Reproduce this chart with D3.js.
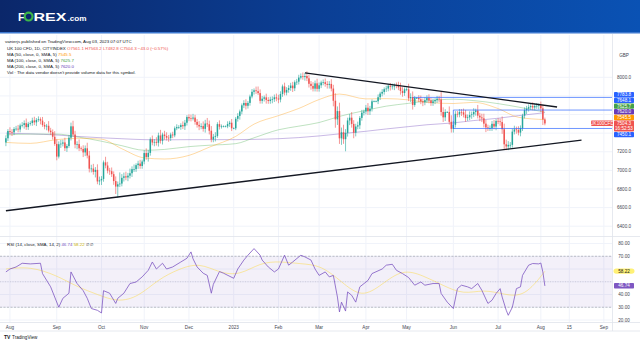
<!DOCTYPE html>
<html><head><meta charset="utf-8">
<script src="https://cdn.jsdelivr.net/npm/d3@7"></script>
<style>html,body{margin:0;padding:0;background:#fff;}svg{display:block;font-family:"Liberation Sans",Arial,sans-serif;}</style>
</head><body><svg id="c" width="640" height="360"></svg>
<script>
// ---------- DATA ----------
const startDate = "2022-07-28", lastBarDate = "2023-08-03", endDate = "2023-09-05";
const firstOpen = 7300;
const closes = [
7345,7423,
7413,7409,7445,7448,7439,7482,7488,7507,7465,7501,7509,7536,7516,7542,7550,7534,7488,7471,7479,7427,7410,7361,7284,
7148,7281,7287,7300,7238,7262,7351,7473,7385,7277,7282,7237,7230,7193,7237,7159,7018,7020,6984,7005,6881,6893,
6908,7086,7052,6997,6991,6959,6885,6826,6850,6858,6920,6936,6924,6943,6969,7013,7013,7056,7073,7047,7095,
7186,7144,7188,7334,7299,7306,7296,7375,7318,7385,7369,7351,7347,7385,7376,7452,7465,7466,7486,7474,7512,7573,
7559,7556,7567,7521,7489,7472,7476,7446,7503,7495,7426,7332,7361,7370,7497,7469,7473,7473,7473,7497,7512,7452,
7452,7554,7585,7633,7699,7724,7694,7725,7794,7844,7860,7851,7830,7747,7770,7784,7757,7745,7761,7765,7785,7772,
7761,7820,7902,7836,7864,7885,7911,7882,7947,7953,7997,8012,8004,8014,7989,7930,7907,7878,7935,7876,
7914,7944,7947,7929,7919,7929,7879,7748,7548,7637,7344,7410,7335,7403,7536,7566,7499,7405,7471,7484,7564,7620,7632,
7673,7635,7663,7742,7742,7742,7786,7825,7843,7872,7879,7909,7898,7902,7914,7912,7892,7853,7831,7871,
7871,7774,7788,7703,7778,7778,7764,7741,7730,7754,7777,7751,7723,7742,7756,7770,7762,7627,7570,7627,7627,7522,7446,
7490,7607,7600,7628,7624,7599,7562,7570,7594,7602,7628,7643,7588,7569,7559,7502,7461,7453,7453,7500,7471,7531,
7527,7519,7442,7280,7257,7274,7274,7416,7440,7434,7406,7453,7588,7646,7663,7679,7691,7676,7692,7694,7699,
7666,7547,7504.3];
// wick lengths above / below the body, in tens of points
const upWick = [
3,2,
4,3,2,3,4,2,3,3,5,2,2,3,4,2,3,2,4,3,2,5,3,3,6,
5,3,4,3,5,2,3,4,6,4,3,5,2,4,3,6,5,4,5,3,6,4,
3,2,6,4,3,4,3,5,3,12,4,4,5,3,5,3,5,2,3,4,2,
3,5,3,2,4,3,5,3,6,2,4,4,3,2,3,2,3,2,2,4,3,2,
3,4,4,3,3,4,3,5,4,6,4,5,3,4,2,4,2,1,1,3,2,4,
1,2,3,2,2,3,4,2,2,3,2,4,5,4,3,2,4,3,3,3,3,4,
4,3,2,4,3,3,3,4,2,3,3,3,4,3,5,4,3,4,3,5,
3,2,3,4,3,3,5,4,8,5,9,5,8,4,3,4,6,4,3,4,2,3,2,
3,5,3,2,1,1,3,2,3,2,3,2,3,3,2,3,4,5,4,2,
2,6,4,6,2,1,3,4,3,3,3,4,3,3,2,3,3,8,5,3,1,6,7,
4,3,3,3,3,4,5,3,4,3,4,2,6,3,4,5,4,3,3,3,4,2,
3,3,6,6,5,4,3,3,4,3,4,3,2,3,3,3,3,4,3,3,2,
4,4,2];
const dnWick = [
4,3,
3,4,3,2,3,3,2,4,3,3,2,3,3,4,2,4,2,3,4,2,3,3,2,
4,2,4,3,3,4,2,3,2,4,5,3,2,5,4,3,4,4,3,6,3,4,
5,3,3,3,4,3,4,8,12,3,3,4,3,4,3,4,3,3,4,3,3,
3,3,5,3,3,4,3,4,3,4,4,3,4,3,3,2,2,2,3,3,4,3,
3,3,2,3,3,4,3,3,4,3,4,3,3,5,2,3,2,1,1,2,3,3,
1,2,3,4,3,3,4,3,3,2,3,3,2,3,3,3,4,3,3,4,3,3,
4,3,3,3,3,3,3,4,3,3,3,2,3,4,3,4,4,3,3,3,
3,3,3,3,4,4,3,6,9,6,6,7,5,13,4,5,4,6,4,3,4,3,3,
3,4,4,3,1,1,3,3,3,3,3,3,4,3,4,3,3,4,4,3,
2,3,4,5,2,1,3,3,4,3,3,3,3,3,3,3,3,4,5,4,1,3,4,
4,3,3,3,4,3,4,3,3,4,3,4,3,4,4,4,5,3,3,3,3,4,
3,4,5,5,4,4,4,3,3,4,3,4,3,3,4,3,3,3,3,3,4,
4,6,2];
const maDates = ["2022-07-28","2022-08-15","2022-09-01","2022-09-15","2022-10-03","2022-10-17","2022-11-01","2022-11-15","2022-12-01","2022-12-15","2023-01-03","2023-01-16","2023-02-01","2023-02-15","2023-03-01","2023-03-15","2023-04-03","2023-04-17","2023-05-02","2023-05-15","2023-06-01","2023-06-15","2023-07-03","2023-07-17","2023-08-03"];
const ma50  = [7300,7290,7330,7345,7335,7232,7134,7122,7161,7249,7365,7497,7588,7665,7761,7820,7768,7771,7757,7731,7718,7731,7664,7570,7545.5];
const ma100 = [7380,7390,7390,7360,7313,7265,7216,7225,7255,7270,7287,7350,7436,7475,7514,7580,7645,7690,7720,7745,7765,7750,7717,7680,7625.7];
const ma200 = [7400,7392,7380,7365,7350,7340,7330,7328,7330,7330,7330,7333,7340,7352,7370,7392,7420,7445,7470,7490,7510,7535,7560,7588,7620.0];
const trendUpper = [["2023-02-20",8047],["2023-08-09",7681]];
const trendLower = [["2022-07-28",6566],["2023-08-21",7326]];
const boxTopLine = {from:"2023-05-04", price:7783.8};
const boxRange = {from:"2023-06-01", top:7648.1, bottom:7450.1};
// RSI points: [bar index, value]
const rsiPoints = [[0,57.7],[2,60],[5,61.6],[8,64.5],[12,64],[17,64.5],[18,56.4],[22,46],[26,30],[28,37],[31,41],[32,57.7],[35,48.6],[38,43],[40,37],[42,29],[45,27.6],[47,25.5],[48,43],[51,41],[54,33],[55,37],[58,41],[61,48.6],[64,49.8],[67,53.8],[70,59],[72,65.5],[74,60],[77,64.5],[79,60],[82,61.6],[86,65.5],[89,68.4],[91,73.4],[92,68],[94,61.6],[97,56.7],[99,55],[101,41],[102,48],[105,58],[107,56.7],[112,52.7],[114,60],[117,67],[119,70.8],[122,76],[125,70.8],[126,67],[129,61.6],[132,57.7],[134,60],[137,70.8],[139,63],[141,65.5],[145,70.8],[147,69.5],[150,67],[152,60],[154,55],[157,57.7],[159,53.8],[161,55],[163,38],[164,26.3],[165,34],[167,27],[168,42],[170,39.4],[172,34],[174,46],[178,51],[180,56.4],[185,60],[187,63],[190,63.7],[192,59],[195,56.4],[198,53.3],[201,47.3],[204,49.8],[206,47.3],[210,48.6],[213,48.6],[214,40.8],[217,34],[220,29],[222,44.6],[224,47.3],[227,46],[229,44.6],[232,48.6],[234,43.3],[237,33],[239,35.5],[241,40.8],[243,44.6],[244,38],[246,27.6],[247,23.7],[249,30],[251,44.6],[253,46],[254,55],[257,63],[259,64.3],[262,64],[263,64.7],[264,57.7],[265,46.74]];
const rsiMaPoints = [[0,60],[12,62],[25,55],[35,46],[45,40],[55,34],[65,38],[75,52],[85,60],[95,65],[105,57],[115,55],[125,65],[135,66],[145,64],[155,63],[165,50],[175,37],[185,48],[195,60],[205,55],[215,47],[225,40],[235,44],[245,40],[255,38],[265,58.22]];
const timeTicks = [["2022-08-01","Aug"],["2022-09-01","Sep"],["2022-10-03","Oct"],["2022-11-01","Nov"],["2022-12-01","Dec"],["2023-01-02","2023"],["2023-02-01","Feb"],["2023-03-01","Mar"],["2023-04-03","Apr"],["2023-05-01","May"],["2023-06-01","Jun"],["2023-07-03","Jul"],["2023-08-01","Aug"],["2023-08-15","15"],["2023-09-01","Sep"]];
const priceTicks = [8000,7800,7600,7400,7200,7000,6800,6600,6400];
const rsiTicks = [80,70,60,50,40,30,20];
const priceLabels = [
 {v:7783.8,t:"7783.8",c:"#2962ff"},{v:7648.1,t:"7648.1",c:"#2962ff"},{v:7625.7,t:"7625.7",c:"#43a047"},
 {v:7620.0,t:"7620.0",c:"#673ab7"},{v:7545.5,t:"7545.5",c:"#ff9800"},{v:7504.3,t:"7504.3",t2:"16:52:53",c:"#ef5350"},
 {v:7450.1,t:"7450.1",c:"#2962ff"}];
const rsiLabels = [{v:58.22,t:"58.22",c:"#fff176",tc:"#131722",pill:true},{v:46.74,t:"46.74",c:"#7e57c2",tc:"#fff"}];

// ---------- LAYOUT ----------
const svg = d3.select("#c");
const W=640, plotR=612;
const parse = d3.utcParse("%Y-%m-%d"), fmt = d3.utcFormat("%Y-%m-%d");
// trading days (weekdays) up to the last bar, then calendar days in the empty future area
const pastDates = d3.utcDays(parse(startDate), d3.utcDay.offset(parse(lastBarDate),1)).filter(d=>d.getUTCDay()%6!==0).map(fmt);
const futureDates = d3.utcDays(d3.utcDay.offset(parse(lastBarDate),1), d3.utcDay.offset(parse(endDate),1)).map(fmt);
const allDates = pastDates.concat(futureDates);
const x = d3.scalePoint().domain(allDates).range([5.9, plotR]);
const y = d3.scaleLinear().domain([6400,8000]).range([226.2,77.3]);
const yr = d3.scaleLinear().domain([20,80]).range([320,243.5]);
const barDates = allDates.slice(0, closes.length);

const defs = svg.append("defs");
const grad = defs.append("linearGradient").attr("id","hg").attr("x1","0").attr("x2","1");
grad.append("stop").attr("offset","0").attr("stop-color","#0b276a");
grad.append("stop").attr("offset","0.5").attr("stop-color","#0b3f95");
grad.append("stop").attr("offset","1").attr("stop-color","#0a52b4");
defs.append("clipPath").attr("id","pc").append("rect").attr("x",0).attr("y",35).attr("width",plotR).attr("height",201);
defs.append("clipPath").attr("id","rc").append("rect").attr("x",0).attr("y",237).attr("width",plotR).attr("height",85);

// header
svg.append("rect").attr("width",W).attr("height",33).attr("fill","url(#hg)");
svg.append("rect").attr("y",32).attr("width",W).attr("height",1.5).attr("fill","#3d78cf");
const logo = svg.append("g").attr("font-weight","bold").attr("fill","#fff");
logo.append("text").attr("x",18).attr("y",20.5).attr("font-size",11).text("F");
logo.append("circle").attr("cx",28.6).attr("cy",16.6).attr("r",3.9).attr("fill","none").attr("stroke","#3cb64a").attr("stroke-width",2.2);
logo.append("text").attr("x",33.5).attr("y",20.5).attr("font-size",11).attr("textLength",33).attr("lengthAdjust","spacingAndGlyphs").text("REX");
logo.append("text").attr("x",67.5).attr("y",20.5).attr("font-size",6.5).attr("textLength",19).attr("lengthAdjust","spacingAndGlyphs").text(".com");

// grid
const grid = svg.append("g").attr("stroke","#f0f3fa").attr("stroke-width",1);
timeTicks.forEach(([d])=>grid.append("line").attr("x1",x(d)).attr("x2",x(d)).attr("y1",35).attr("y2",322));
priceTicks.forEach(v=>grid.append("line").attr("x1",0).attr("x2",plotR).attr("y1",y(v)).attr("y2",y(v)));
rsiTicks.forEach(v=>grid.append("line").attr("x1",0).attr("x2",plotR).attr("y1",yr(v)).attr("y2",yr(v)));

// frame lines
const frame = svg.append("g").attr("stroke","#e0e3eb").attr("stroke-width",0.8);
frame.append("line").attr("x1",plotR+0.5).attr("x2",plotR+0.5).attr("y1",34).attr("y2",331);
frame.append("line").attr("x1",0).attr("x2",W).attr("y1",236.5).attr("y2",236.5);
frame.append("line").attr("x1",0).attr("x2",W).attr("y1",322.5).attr("y2",322.5);
frame.append("line").attr("x1",0).attr("x2",W).attr("y1",331).attr("y2",331);

// ---------- PRICE PANE ----------
const pp = svg.append("g").attr("clip-path","url(#pc)");
const line = d3.line().curve(d3.curveMonotoneX);
const maSets = [[ma200,"#673ab7"],[ma100,"#4caf50"],[ma50,"#ff9800"]];
maSets.forEach(([arr,col])=>{
  pp.append("path").attr("d",line(arr.map((v,i)=>[x(maDates[i]),y(v)]))).attr("fill","none").attr("stroke",col).attr("stroke-opacity",0.45).attr("stroke-width",0.8);
});
const candles = closes.map((c,i)=>{
  const o = i===0?firstOpen:closes[i-1];
  return {d:barDates[i],o,c,h:Math.max(o,c)+(upWick[i]||0)*10,l:Math.min(o,c)-(dnWick[i]||0)*10};
});
const cg = pp.append("g");
candles.forEach(k=>{
  const col = k.c>=k.o?"#26a69a":"#ef5350";
  const cx = x(k.d);
  cg.append("line").attr("x1",cx).attr("x2",cx).attr("y1",y(k.h)).attr("y2",y(k.l)).attr("stroke",col).attr("stroke-width",0.6);
  const t = Math.min(y(k.o),y(k.c)), hh = Math.max(0.7,Math.abs(y(k.o)-y(k.c)));
  cg.append("rect").attr("x",cx-0.75).attr("width",1.5).attr("y",t).attr("height",hh).attr("fill",col);
});
const blue = "#2962ff";
pp.append("line").attr("x1",x(boxTopLine.from)).attr("x2",plotR).attr("y1",y(boxTopLine.price)).attr("y2",y(boxTopLine.price)).attr("stroke",blue).attr("stroke-opacity",0.75).attr("stroke-width",0.9);
pp.append("path").attr("d",`M${plotR},${y(boxRange.top)}H${x(boxRange.from)}V${y(boxRange.bottom)}H${plotR}`).attr("fill","none").attr("stroke",blue).attr("stroke-opacity",0.75).attr("stroke-width",0.9);
[trendUpper,trendLower].forEach(t=>{
  pp.append("path").attr("d",d3.line()(t.map(([d,v])=>[x(d),y(v)]))).attr("stroke","#131722").attr("stroke-width",1.3).attr("fill","none");
});

// ---------- RSI PANE ----------
const rp = svg.append("g").attr("clip-path","url(#rc)");
rp.append("rect").attr("x",0).attr("width",plotR).attr("y",yr(70)).attr("height",yr(30)-yr(70)).attr("fill","#7e57c2").attr("fill-opacity",0.09);
[[70,"2,1.5",0.55],[30,"2,1.5",0.55],[50,"1,1.5",0.3]].forEach(([v,da,op])=>{
  rp.append("line").attr("x1",0).attr("x2",plotR).attr("y1",yr(v)).attr("y2",yr(v)).attr("stroke","#787b86").attr("stroke-opacity",op).attr("stroke-dasharray",da).attr("stroke-width",0.8);
});
rp.append("path").attr("d",d3.line().curve(d3.curveBasis)(rsiMaPoints.map(([b,v])=>[x(allDates[b]),yr(v)]))).attr("fill","none").attr("stroke","#fdd835").attr("stroke-opacity",0.5).attr("stroke-width",0.9);
rp.append("path").attr("d",d3.line()(rsiPoints.map(([b,v])=>[x(allDates[b]),yr(v)]))).attr("fill","none").attr("stroke","#7e57c2").attr("stroke-width",0.8);

// ---------- AXIS LABEL BOXES (computed first, to hide covered tick texts) ----------
const fs = 4.6, tc = "#434651", lh = 5.7;
const items = priceLabels.map(d=>({...d,h:d.t2?lh*2:lh,ty:y(d.v)})).sort((a,b)=>a.ty-b.ty);
let groups = items.map(d=>({items:[d],H:d.h,sum:d.ty}));
let changed = true;
while(changed){changed=false;
  for(let i=1;i<groups.length;i++){const a=groups[i-1],b=groups[i];
    if(b.sum/b.items.length-b.H/2 < a.sum/a.items.length+a.H/2){groups.splice(i-1,2,{items:a.items.concat(b.items),H:a.H+b.H,sum:a.sum+b.sum});changed=true;break;}}}
groups.forEach(g=>{let top=g.sum/g.items.length-g.H/2;g.items.forEach(d=>{d.top=top;top+=d.h;});});
const rItems = rsiLabels.map(d=>({...d,top:yr(d.v)-lh/2,h:lh}));
const boxes = items.concat(rItems).map(d=>[d.top,d.top+d.h]);
const covered = yy => boxes.some(([a,b])=>yy+2.4>a && yy-2.4<b);

// ---------- AXES ----------
const pa = svg.append("g").attr("font-size",fs).attr("fill",tc).attr("text-anchor","middle");
pa.append("text").attr("x",624).attr("y",56.5).text("GBP");
priceTicks.filter(v=>!covered(y(v))).forEach(v=>pa.append("text").attr("x",624).attr("y",y(v)+1.6).text(d3.format(".1f")(v)));
rsiTicks.filter(v=>!covered(yr(v))).forEach(v=>pa.append("text").attr("x",624).attr("y",yr(v)+1.6).text(d3.format(".2f")(v)));
timeTicks.forEach(([d,l])=>pa.append("text").attr("x",x(d)).attr("y",328.5).text(l));

const lg = svg.append("g").attr("font-size",fs).attr("text-anchor","middle");
items.forEach(d=>{
  lg.append("rect").attr("x",614).attr("y",d.top).attr("width",20).attr("height",d.h-0.3).attr("rx",0.8).attr("fill",d.c);
  lg.append("text").attr("x",624).attr("y",d.top+4.2).attr("fill","#fff").text(d.t);
  if(d.t2){
    lg.append("text").attr("x",624).attr("y",d.top+lh+4.2).attr("fill","#fff").text(d.t2);
    lg.append("rect").attr("x",591).attr("y",d.top).attr("width",22).attr("height",lh-0.3).attr("rx",0.8).attr("fill",d.c);
    lg.append("text").attr("x",602).attr("y",d.top+4.2).attr("fill","#fff").text("UK100CFD");
  }
});
rItems.forEach(d=>{
  lg.append("rect").attr("x",d.pill?613.5:614).attr("y",d.top).attr("width",d.pill?21:20).attr("height",d.h-0.3).attr("rx",d.pill?2.8:0.8).attr("fill",d.c);
  lg.append("text").attr("x",624).attr("y",d.top+4.2).attr("fill",d.tc).text(d.t);
});

// ---------- LEGEND TEXT ----------
const lgd = svg.append("g").attr("font-size",4.4).attr("fill","#131722");
lgd.append("text").attr("x",5).attr("y",43).text("vanierjs published on TradingView.com, Aug 03, 2023 07:07 UTC");
function row(yy, parts){const t=lgd.append("text").attr("x",7).attr("y",yy);parts.forEach(([s,c])=>t.append("tspan").attr("fill",c).text(s));}
row(50,[["UK 100 CFD, 1D, CITYINDEX  ","#131722"],["O7561.1 H7563.2 L7482.8 C7504.3 −43.0 (−0.57%)","#ef5350"]]);
row(56,[["MA (50, close, 0, SMA, 5)  ","#131722"],["7545.5","#ff9800"]]);
row(62,[["MA (100, close, 0, SMA, 5)  ","#131722"],["7625.7","#43a047"]]);
row(68,[["MA (200, close, 0, SMA, 5)  ","#131722"],["7620.0","#673ab7"]]);
row(74,[["Vol · The data vendor doesn't provide volume data for this symbol.","#131722"]]);
const rt = lgd.append("text").attr("x",7).attr("y",246);
rt.append("tspan").text("RSI (14, close, SMA, 14, 2)  ");
rt.append("tspan").attr("fill","#7e57c2").text("46.74  ");
rt.append("tspan").attr("fill","#c9b000").text("58.22");
rt.append("tspan").attr("fill","#131722").text("  ∅  ∅");

// footer logo
const ft = svg.append("g");
ft.append("text").attr("x",4).attr("y",339).attr("font-size",5).attr("font-weight","bold").attr("fill","#131722").text("TV");
ft.append("text").attr("x",12).attr("y",339).attr("font-size",4.6).attr("fill","#131722").text("TradingView");
</script></body></html>
